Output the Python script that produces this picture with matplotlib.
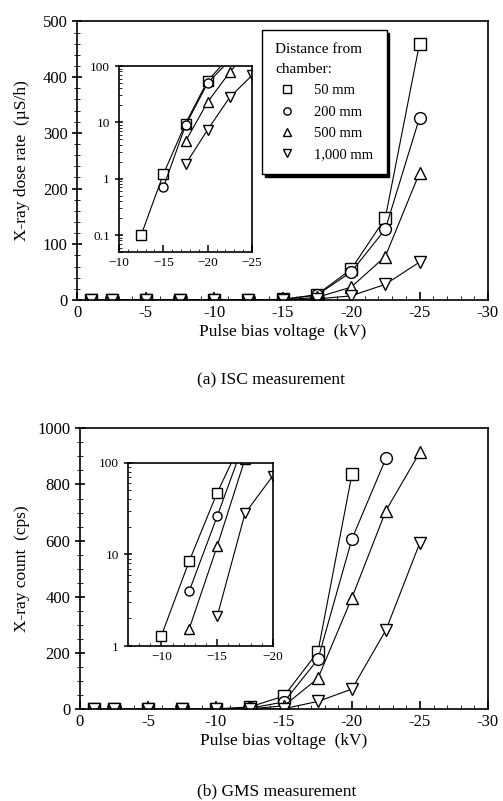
import matplotlib
matplotlib.use("Agg")
import matplotlib.pyplot as plt
import numpy as np
from matplotlib.ticker import MultipleLocator, LogLocator, FixedLocator, NullFormatter

plt.rcParams["font.family"] = ["Liberation Serif", "DejaVu Serif"]

# pulse bias voltage (kV)
volts = [-1, -2.5, -5, -7.5, -10, -12.5, -15, -17.5, -20, -22.5, -25]

# (a) ISC measurement, X-ray dose rate (uS/h)
isc_50 = [0, 0, 0, 0, 0, 0.1, 1.2, 9.5, 55, 147, 460]
isc_200 = [0, 0, 0, 0, 0, 0, 0.7, 8.8, 50, 127, 327]
isc_500 = [0, 0, 0, 0, 0, 0, 0, 4.6, 23, 78, 228]
isc_1000 = [0, 0, 0, 0, 0, 0, 0, 1.8, 7.4, 28, 68]

# (b) GMS measurement, X-ray count (cps)
gms_50 = [0, 0, 0, 0, 1.3, 8.5, 47, 205, 836]
gms_200 = [0, 0, 0, 0, 0, 4.0, 26, 178, 606, 893]
gms_500 = [0, 0, 0, 0, 0, 1.55, 12.3, 110, 397, 707, 915]
gms_1000 = [0, 0, 0, 0, 0, 0, 2.1, 28, 72, 282, 593]

labels = ["50 mm", "200 mm", "500 mm", "1,000 mm"]
markers = ["s", "o", "^", "v"]


def draw_series(ax, series, ms, log=False):
    for ys, m, lab in zip(series, markers, labels):
        x = np.array(volts[:len(ys)], dtype=float)
        y = np.array(ys, dtype=float)
        if log:
            keep = y > 0
            x, y = x[keep], y[keep]
        ax.plot(x, y, color="black", lw=0.8, marker=m, ms=ms,
                mfc="white", mec="black", mew=1.0, label=lab)


def style_main(ax, ymax, ymajor, yminor):
    ax.set_xlim(0, -30)
    ax.set_ylim(0, ymax)
    ax.xaxis.set_major_locator(MultipleLocator(5))
    ax.xaxis.set_minor_locator(MultipleLocator(1))
    ax.yaxis.set_major_locator(MultipleLocator(ymajor))
    ax.yaxis.set_minor_locator(MultipleLocator(yminor))
    ax.tick_params(axis="x", which="both", direction="in", top=False, labelsize=12)
    ax.tick_params(axis="x", which="major", length=6, width=1.2)
    ax.tick_params(axis="x", which="minor", length=3)
    ax.tick_params(axis="y", which="both", direction="inout", right=False, labelsize=12)
    ax.tick_params(axis="y", which="major", length=7, width=1.2)
    ax.tick_params(axis="y", which="minor", length=4)
    ax.xaxis.set_major_formatter(plt.FuncFormatter(lambda v, p: "0" if v == 0 else f"{v:.0f}"))
    for s in ax.spines.values():
        s.set_linewidth(1.2)


def style_inset(ax, xlim, ylim, xticks):
    ax.set_xlim(*xlim)
    ax.set_ylim(*ylim)
    ax.set_yscale("log")
    ax.xaxis.set_major_locator(FixedLocator(xticks))
    ax.xaxis.set_minor_locator(MultipleLocator(1))
    ax.yaxis.set_major_locator(LogLocator(base=10))
    ax.yaxis.set_minor_locator(LogLocator(base=10, subs=np.arange(2, 10)))
    ax.yaxis.set_minor_formatter(NullFormatter())
    ax.yaxis.set_major_formatter(plt.FuncFormatter(lambda v, p: f"{v:g}"))
    ax.tick_params(axis="both", which="both", direction="in", top=False, right=False, labelsize=9.5)
    ax.tick_params(axis="both", which="major", length=5, width=1.1)
    ax.tick_params(axis="both", which="minor", length=2.5)
    ax.tick_params(axis="y", which="major", direction="inout", length=6)
    for s in ax.spines.values():
        s.set_linewidth(1.2)


fig = plt.figure(figsize=(5.03, 8.01), dpi=100)

# ---- (a) ISC ----
ax1 = fig.add_axes([0.154, 0.6255, 0.816, 0.3477])
draw_series(ax1, [isc_50, isc_200, isc_500, isc_1000], ms=8.5)
style_main(ax1, 500, 100, 20)
ax1.set_xlabel("Pulse bias voltage  (kV)", fontsize=12.5, labelpad=2)
ax1.set_ylabel("X-ray dose rate  (µS/h)", fontsize=12.5, labelpad=9)

leg = ax1.legend(title="Distance from\nchamber:", loc="upper left",
                 bbox_to_anchor=(0.449, 0.969), borderaxespad=0,
                 frameon=True, fancybox=False,
                 shadow={"color": "black", "alpha": 1.0}, fontsize=10.5,
                 title_fontsize=11, handlelength=1.6, handletextpad=1.1,
                 borderpad=0.9, labelspacing=0.55, markerscale=0.62,
                 alignment="left")
leg.get_title().set_linespacing(1.7)
leg.get_frame().set_edgecolor("black")
leg.get_frame().set_linewidth(1.0)
for h in leg.legend_handles:
    h.set_linestyle("none")

ins1 = fig.add_axes([0.2366, 0.6854, 0.2644, 0.2322])
draw_series(ins1, [isc_50, isc_200, isc_500, isc_1000], ms=6.5, log=True)
style_inset(ins1, (-10, -25), (0.05, 100), [-10, -15, -20, -25])

fig.text(0.539, 0.525, "(a) ISC measurement", ha="center", va="center", fontsize=12.5)

# ---- (b) GMS ----
ax2 = fig.add_axes([0.159, 0.1145, 0.811, 0.3508])
draw_series(ax2, [gms_50, gms_200, gms_500, gms_1000], ms=8.5)
style_main(ax2, 1000, 200, 50)
ax2.set_xlabel("Pulse bias voltage  (kV)", fontsize=12.5, labelpad=2)
ax2.set_ylabel("X-ray count  (cps)", fontsize=12.5, labelpad=5)

ins2 = fig.add_axes([0.2545, 0.1935, 0.288, 0.2288])
draw_series(ins2, [gms_50, gms_200, gms_500, gms_1000], ms=6.5, log=True)
style_inset(ins2, (-7, -20), (1, 100), [-10, -15, -20])

fig.text(0.55, 0.012, "(b) GMS measurement", ha="center", va="center", fontsize=12.5)

fig.savefig("out.png", dpi=100)
